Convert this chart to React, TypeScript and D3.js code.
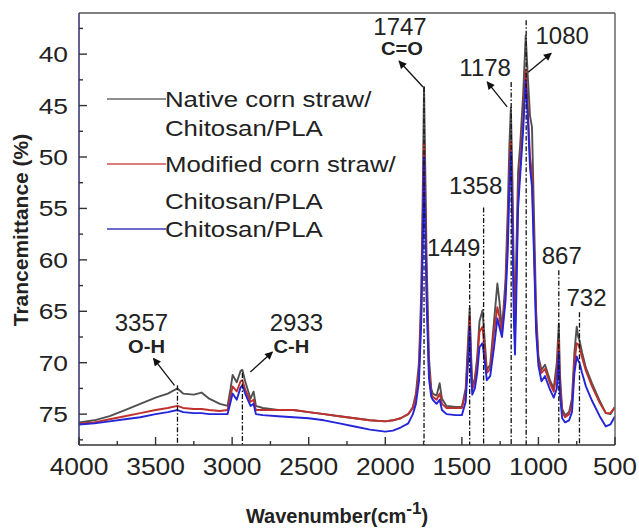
import React from 'react';
import * as d3 from 'd3';

const wavenumbers = [
  4000, 3900, 3800, 3700, 3600, 3500, 3420, 3357, 3320, 3250,
  3200, 3150, 3080, 3030, 3010, 2997, 2970, 2945, 2933, 2915,
  2880, 2860, 2845, 2800, 2700, 2600, 2500, 2400, 2300, 2200,
  2100, 2000, 1950, 1900, 1850, 1820, 1800, 1780, 1765, 1755,
  1747, 1740, 1730, 1715, 1700, 1690, 1665, 1645, 1630, 1600,
  1540, 1500, 1475, 1460, 1449, 1440, 1432, 1415, 1400, 1385,
  1365, 1350, 1337, 1315, 1290, 1268, 1255, 1238, 1215, 1200,
  1190, 1180, 1170, 1160, 1153, 1145, 1133, 1120, 1100, 1083,
  1070, 1055, 1042, 1030, 1015, 1000, 980, 957, 925, 900,
  880, 867, 860, 845, 826, 800, 781, 765, 750, 740,
  732, 715, 690, 650, 600, 560, 530, 500,
];

const nativeValues = [
  75.8, 75.6, 75.2, 74.6, 74.0, 73.4, 73.0, 72.5, 73.0, 73.1,
  72.9, 73.5, 74.0, 74.2, 72.5, 71.2, 71.9, 70.8, 70.7, 71.8,
  73.5, 72.8, 74.2, 74.4, 74.6, 74.6, 74.8, 75.0, 75.2, 75.4,
  75.6, 75.7, 75.6, 75.4, 75.0, 74.3, 73.0, 70.0, 63.0, 53.0,
  43.2, 50.0, 60.0, 69.5, 72.5, 73.0, 73.2, 72.0, 73.5, 74.2,
  74.3, 74.3, 72.5, 68.0, 64.7, 69.0, 72.3, 71.5, 69.5, 66.0,
  64.9, 68.0, 70.7, 70.2, 66.0, 62.3, 64.0, 66.8, 62.0, 55.0,
  49.0, 45.2, 52.0, 62.0, 66.5, 60.0, 51.5, 49.0, 44.0, 38.2,
  42.0, 46.0, 47.1, 55.0, 65.0, 69.4, 70.7, 70.2, 71.7, 72.5,
  70.0, 66.2, 71.0, 74.5, 75.1, 74.8, 73.5, 69.0, 66.5, 67.5,
  67.8, 69.0, 70.5, 72.0, 73.7, 74.9, 75.0, 74.3,
];

const modifiedValues = [
  75.9, 75.8, 75.5, 75.2, 74.9, 74.6, 74.4, 74.2, 74.4, 74.5,
  74.5, 74.6, 74.7, 74.6, 73.2, 72.3, 72.8, 71.8, 71.7, 72.6,
  73.8, 73.6, 74.6, 74.6, 74.6, 74.6, 74.8, 75.0, 75.2, 75.4,
  75.6, 75.7, 75.6, 75.4, 75.0, 74.4, 73.3, 70.8, 64.5, 56.0,
  48.7, 54.0, 62.5, 70.5, 73.0, 73.3, 73.6, 73.0, 74.0, 74.4,
  74.4, 74.4, 73.0, 69.0, 65.5, 70.0, 72.6, 71.8, 70.0, 67.0,
  66.5, 69.0, 71.0, 70.6, 67.0, 64.6, 65.5, 67.2, 63.0, 57.0,
  52.0, 48.5, 55.0, 64.0, 67.5, 62.0, 54.0, 51.0, 46.5, 41.5,
  45.0, 50.0, 51.6, 58.0, 66.0, 69.8, 71.0, 70.6, 72.0, 72.8,
  71.0, 67.8, 72.0, 74.8, 75.3, 75.0, 74.0, 70.0, 68.1, 68.2,
  68.5, 69.5, 70.8, 72.3, 73.9, 74.9, 74.9, 74.3,
];

const chitosanValues = [
  76.0, 75.9, 75.7, 75.5, 75.3, 75.0, 74.8, 74.6, 74.8, 74.9,
  74.9, 75.0, 75.0, 75.0, 73.8, 73.0, 73.6, 72.4, 72.2, 73.0,
  74.2, 74.0, 75.0, 75.1, 75.2, 75.3, 75.4, 75.6, 75.9, 76.2,
  76.5, 76.7, 76.6, 76.3, 75.9, 75.0, 74.0, 71.8, 66.0, 58.0,
  50.0, 56.0, 64.0, 71.5, 73.3, 73.6, 74.0, 73.6, 74.6, 75.0,
  75.1, 75.1, 73.8, 70.0, 66.5, 71.0, 73.1, 72.5, 71.0, 68.5,
  68.1, 70.0, 71.7, 71.3, 68.5, 65.7, 66.5, 67.5, 64.0, 59.0,
  53.0, 49.5, 57.0, 66.0, 69.2, 64.0, 55.0, 52.0, 47.5, 42.5,
  46.0, 51.0, 52.9, 59.0, 67.0, 70.3, 71.8, 71.3, 72.6, 73.4,
  72.5, 69.0, 73.0, 75.4, 75.8, 75.6, 74.8, 71.0, 69.4, 69.8,
  70.0, 71.0, 72.3, 73.7, 75.2, 76.2, 76.0, 75.2,
];

const seriesLabels = [
  ['Native corn straw/', 'Chitosan/PLA'],
  ['Modified corn straw/', 'Chitosan/PLA'],
  ['Chitosan/PLA'],
];

const xTickValues = [4000, 3500, 3000, 2500, 2000, 1500, 1000, 500];
const xMinorValues = [3750, 3250, 2750, 2250, 1750, 1250, 750];
const yTickValues = [40, 45, 50, 55, 60, 65, 70, 75];
const yMinorValues = [37.5, 42.5, 47.5, 52.5, 57.5, 62.5, 67.5, 72.5, 77.5];

const peakWavenumbers = [3357, 2933, 1747, 1449, 1358, 1178, 1080, 867, 732];
const peakLabels = ['3357', '2933', '1747', '1449', '1358', '1178', '1080', '867', '732'];
const bondLabels = ['O-H', 'C-H', 'C=O', '', '', '', '', '', ''];
const dashTopValues = [72.2, 71.0, 43.2, 60.3, 54.9, 42.7, 36.7, 61.0, 65.1];

// layout (pixels): label offsets from the peak line, and arrow offsets
const labelLayout = [
  { dx: -36, by: 331, bdx: -31, bby: 353 },
  { dx: 54, by: 331, bdx: 49, bby: 353 },
  { dx: -24, by: 35, bdx: -22, bby: 55 },
  { dx: -16, by: 256, bdx: 0, bby: 0 },
  { dx: -8, by: 194, bdx: 0, bby: 0 },
  { dx: -26, by: 76, bdx: 0, bby: 0 },
  { dx: 36, by: 44, bdx: 0, bby: 0 },
  { dx: 3, by: 264, bdx: 0, bby: 0 },
  { dx: 7, by: 306, bdx: 0, bby: 0 },
];
const arrowLayout: (null | { sx: number; sy: number; ex: number; ey: number })[] = [
  { sx: -3, sy: 0, ex: -24, ey: -27 },
  { sx: 8, sy: -1, ex: 30, ey: -21 },
  { sx: -1, sy: 0, ex: -25, ey: -26 },
  null,
  null,
  { sx: -4, sy: 25, ex: -24, ey: 0 },
  { sx: 2, sy: 52, ex: 25, ey: 33 },
  null,
  null,
];

const FONT = '"Liberation Sans", Arial, Helvetica, sans-serif';

export default function App() {
  const W = 639;
  const H = 531;
  const left = 79, right = 615, top = 13, bottom = 445;
  const x = d3.scaleLinear().domain([4000, 500]).range([left, right]);
  const y = d3.scaleLinear().domain([36, 78]).range([top, bottom]);

  const series = [
    { values: nativeValues, color: '#505050', legend: '#6a6a6a' },
    { values: modifiedValues, color: '#c0302c', legend: '#d05050' },
    { values: chitosanValues, color: '#2424d8', legend: '#3a3ab8' },
  ];

  const makeLine = (vals: number[]) =>
    d3.line<number>()
      .x((_, i) => x(wavenumbers[i]))
      .y((d) => y(d))(vals) || '';

  const legendRows = [
    { lineY: 99, baselines: [107, 136] },
    { lineY: 164, baselines: [172, 209] },
    { lineY: 229, baselines: [237] },
  ];

  return (
    <svg
      width={W}
      height={H}
      style={{ position: 'absolute', left: 0, top: 0, background: '#fff' }}
      fontFamily={FONT}
    >
      <defs>
        <clipPath id="plot">
          <rect x={left} y={top} width={right - left} height={bottom - top} />
        </clipPath>
        <marker id="arrow" viewBox="0 0 10 10" refX="9" refY="5" markerWidth="9" markerHeight="8" orient="auto" markerUnits="userSpaceOnUse">
          <path d="M0,0 L10,5 L0,10 z" fill="#111" />
        </marker>
      </defs>
      <rect x={0} y={0} width={W} height={H} fill="#fff" />

      {/* curves */}
      <g clipPath="url(#plot)">
        {series.map((s, i) => (
          <path key={i} d={makeLine(s.values)} fill="none" stroke={s.color} strokeWidth={1.9} strokeLinejoin="round" />
        ))}
      </g>

      {/* dashed peak lines */}
      {peakWavenumbers.map((w, i) => (
        <line
          key={'d' + i}
          x1={x(w)}
          x2={x(w)}
          y1={y(dashTopValues[i])}
          y2={bottom}
          stroke="#111"
          strokeWidth={1.3}
          strokeDasharray="5,2,1.5,2"
        />
      ))}

      {/* frame */}
      <line x1={left} x2={right} y1={top} y2={top} stroke="#555" strokeWidth={1.5} />
      <line x1={right} x2={right} y1={top} y2={bottom} stroke="#666" strokeWidth={1.5} />
      <line x1={left} x2={right} y1={bottom} y2={bottom} stroke="#333" strokeWidth={1.6} />
      <line x1={left} x2={left} y1={top} y2={bottom} stroke="#3a3a78" strokeWidth={1.6} />

      {/* x ticks */}
      {xTickValues.map((t) => (
        <g key={'xt' + t}>
          <line x1={x(t)} x2={x(t)} y1={bottom} y2={bottom - 8} stroke="#333" strokeWidth={1.4} />
          <text
            transform={`translate(${x(t)},${bottom + 30}) scale(1.1,1)`}
            textAnchor="middle"
            fontSize={24}
            fill="#222"
          >
            {t}
          </text>
        </g>
      ))}
      {xMinorValues.map((t) => (
        <line key={'xm' + t} x1={x(t)} x2={x(t)} y1={bottom} y2={bottom - 4} stroke="#333" strokeWidth={1.4} />
      ))}

      {/* y ticks */}
      {yTickValues.map((t) => (
        <g key={'yt' + t}>
          <line x1={left} x2={left + 8} y1={y(t)} y2={y(t)} stroke="#333" strokeWidth={1.4} />
          <text
            transform={`translate(${left - 11},${y(t) + 8}) scale(1.2,1)`}
            textAnchor="end"
            fontSize={22}
            fill="#222"
          >
            {t}
          </text>
        </g>
      ))}
      {yMinorValues.map((t) => (
        <line key={'ym' + t} x1={left} x2={left + 4} y1={y(t)} y2={y(t)} stroke="#333" strokeWidth={1.4} />
      ))}

      {/* axis titles */}
      <text
        transform={`translate(28,230) rotate(-90)`}
        textAnchor="middle"
        fontSize={21}
        fontWeight="bold"
        fill="#222"
      >
        Trancemittance (%)
      </text>
      <text x={337} y={523} textAnchor="middle" fontSize={20} fontWeight="bold" fill="#222">
        Wavenumber(cm
        <tspan dy={-9} fontSize={17}>-1</tspan>
        <tspan dy={9}>)</tspan>
      </text>

      {/* legend */}
      {legendRows.map((row, i) => (
        <g key={'lg' + i}>
          <line x1={107} x2={166} y1={row.lineY} y2={row.lineY} stroke={series[i].legend} strokeWidth={1.6} />
          {seriesLabels[i].map((txt, j) => (
            <text
              key={j}
              transform={`translate(165,${row.baselines[j]}) scale(1.2,1)`}
              fontSize={21.5}
              fill="#222"
            >
              {txt}
            </text>
          ))}
        </g>
      ))}

      {/* peak labels */}
      {peakWavenumbers.map((w, i) => {
        const L = labelLayout[i];
        const A = arrowLayout[i];
        const px = x(w);
        const py = y(dashTopValues[i]);
        return (
          <g key={'pl' + i}>
            <text x={px + L.dx} y={L.by} textAnchor="middle" fontSize={24} fill="#222">
              {peakLabels[i]}
            </text>
            {bondLabels[i] && (
              <text
                transform={`translate(${px + L.bdx},${L.bby}) scale(1.12,1)`}
                textAnchor="middle"
                fontSize={18}
                fontWeight="bold"
                fill="#222"
              >
                {bondLabels[i]}
              </text>
            )}
            {A && (
              <line
                x1={px + A.sx}
                y1={py + A.sy}
                x2={px + A.ex}
                y2={py + A.ey}
                stroke="#111"
                strokeWidth={1.3}
                markerEnd="url(#arrow)"
              />
            )}
          </g>
        );
      })}
    </svg>
  );
}
